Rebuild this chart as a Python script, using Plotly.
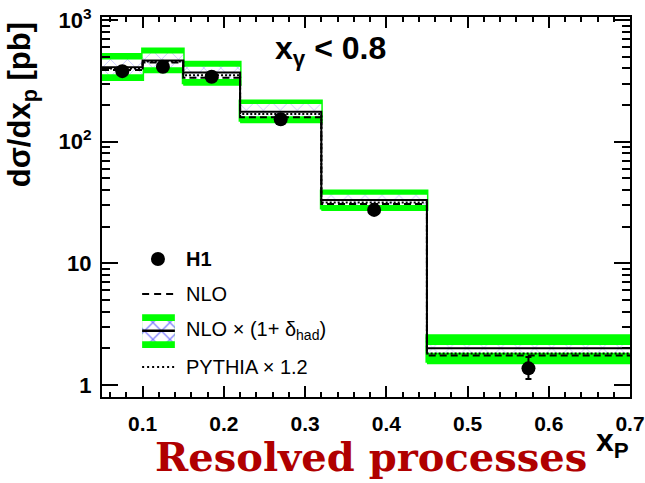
import plotly.graph_objects as go

# x_p binning and the bin centres of the measured points
xp_edges = [0.05, 0.10, 0.15, 0.22, 0.32, 0.45, 0.70]
xp_centres = [0.075, 0.125, 0.185, 0.27, 0.385, 0.575]

# H1 measurement [pb]
h1_xsec = [380, 413, 342, 153, 27.5, 1.37]
h1_err_up = [30, 32, 27, 12, 2.2, 0.33]
h1_err_dn = [30, 32, 27, 12, 2.2, 0.25]

# theory predictions [pb]
nlo = [388, 447, 336, 159, 30.7, 1.75]
nlo_had = [410, 466, 370, 176, 33.1, 2.00]
nlo_had_hi = [473, 532, 413, 204, 36.7, 2.13]   # hadronisation uncertainty
nlo_had_lo = [359, 410, 327, 162, 30.1, 1.84]
nlo_tot_hi = [520, 577, 449, 216, 39.3, 2.54]   # total uncertainty
nlo_tot_lo = [324, 375, 297, 146, 27.7, 1.52]
pythia_x12 = [399, 457, 352, 169, 31.6, 1.81]

# axis ticks
x_tickvals = [0.1, 0.2, 0.3, 0.4, 0.5, 0.6, 0.7]
x_ticktext = ["0.1", "0.2", "0.3", "0.4", "0.5", "0.6", "0.7"]
x_minor = [0.06, 0.08, 0.12, 0.14, 0.16, 0.18, 0.22, 0.24, 0.26, 0.28,
           0.32, 0.34, 0.36, 0.38, 0.42, 0.44, 0.46, 0.48, 0.52, 0.54,
           0.56, 0.58, 0.62, 0.64, 0.66, 0.68]
y_tickvals = [1, 10, 100, 1000]
y_ticktext = ["1", "10", "10<sup>2</sup>", "10<sup>3</sup>"]
y_minor = [m * 10 ** d for d in range(3) for m in range(2, 10)]

GREEN = "#00ff00"
HATCH = "#7070ff"
FONT = "Liberation Sans"

fig = go.Figure()


def box(x0, x1, lo, hi, **kw):
    return go.Scatter(x=[x0, x1, x1, x0, x0], y=[lo, lo, hi, hi, lo],
                      mode="lines", fill="toself", hoverinfo="skip",
                      showlegend=False, **kw)


# total uncertainty band (green boxes)
for i in range(len(nlo_had)):
    fig.add_trace(box(xp_edges[i], xp_edges[i + 1], nlo_tot_lo[i], nlo_tot_hi[i],
                      fillcolor=GREEN, line=dict(color=GREEN, width=3)))

# hadronisation uncertainty (hatched boxes)
for i in range(len(nlo_had)):
    fig.add_trace(box(xp_edges[i], xp_edges[i + 1], nlo_had_lo[i], nlo_had_hi[i],
                      fillcolor="white", line=dict(width=0),
                      fillpattern=dict(shape="x", fgcolor=HATCH, bgcolor="white",
                                       size=12, solidity=0.12)))


def steps(vals, dash, width=2):
    return go.Scatter(x=xp_edges, y=list(vals) + [vals[-1]], mode="lines",
                      line=dict(color="black", width=width, dash=dash, shape="hv"),
                      hoverinfo="skip", showlegend=False)


fig.add_trace(steps(nlo_had, "solid"))
fig.add_trace(steps(nlo, "7px,4px"))
fig.add_trace(steps(pythia_x12, "2px,2px"))

# data points
fig.add_trace(go.Scatter(
    x=xp_centres, y=h1_xsec, mode="markers",
    marker=dict(color="black", size=14),
    error_y=dict(type="data", symmetric=False, array=h1_err_up,
                 arrayminus=h1_err_dn, color="black", thickness=2, width=3),
    showlegend=False))

# legend keys, drawn on a unit overlay frame
key_x0, key_x1 = 0.076, 0.138
leg = dict(xaxis="x2", yaxis="y2", hoverinfo="skip", showlegend=False)
fig.add_trace(go.Scatter(x=[0.106], y=[0.363], mode="markers",
                         marker=dict(color="black", size=14), **leg))
fig.add_trace(go.Scatter(x=[key_x0, key_x1], y=[0.271, 0.271], mode="lines",
                         line=dict(color="black", width=2, dash="7px,5px"), **leg))
fig.add_trace(go.Scatter(x=[key_x0, key_x1, key_x1, key_x0, key_x0],
                         y=[0.129, 0.129, 0.218, 0.218, 0.129], mode="lines",
                         fill="toself", fillcolor=GREEN, line=dict(width=0), **leg))
fig.add_trace(go.Scatter(x=[key_x0, key_x1, key_x1, key_x0, key_x0],
                         y=[0.147, 0.147, 0.200, 0.200, 0.147], mode="lines",
                         fill="toself", fillcolor="white", line=dict(width=0),
                         fillpattern=dict(shape="x", fgcolor="blue", bgcolor="white",
                                          size=12, solidity=0.2), **leg))
fig.add_trace(go.Scatter(x=[key_x0, key_x1], y=[0.1745, 0.1745], mode="lines",
                         line=dict(color="black", width=2.5), **leg))
fig.add_trace(go.Scatter(x=[key_x0, key_x1], y=[0.079, 0.079], mode="lines",
                         line=dict(color="black", width=2, dash="2px,3px"), **leg))

legend_labels = ["<b>H1</b>", "NLO", "NLO \u00d7 (1+ \u03b4<sub>had</sub>)",
                 "PYTHIA \u00d7 1.2"]
legend_rows = [0.363, 0.271, 0.176, 0.079]

annotations = []
for lab, yy in zip(legend_labels, legend_rows):
    annotations.append(dict(text=lab, x=0.155, y=yy, xref="paper", yref="paper",
                            xanchor="left", yanchor="middle", showarrow=False,
                            font=dict(family=FONT, size=20, color="black")))

annotations += [
    dict(text="<b>x<sub>\u03b3</sub> &lt; 0.8</b>", x=0.324, y=0.913,
         xref="paper", yref="paper", xanchor="left", yanchor="middle",
         showarrow=False, font=dict(family=FONT, size=32, color="black")),
    dict(text="<b>d\u03c3/dx<sub>p</sub> [pb]</b>", x=-0.152, y=0.992,
         xref="paper", yref="paper", xanchor="center", yanchor="top",
         textangle=-90, showarrow=False,
         font=dict(family=FONT, size=31, color="black")),
    dict(text="<b>x<sub>P</sub></b>", x=0.966, y=-0.12,
         xref="paper", yref="paper", xanchor="center", yanchor="middle",
         showarrow=False, font=dict(family=FONT, size=32, color="black")),
    dict(text="<b>Resolved processes</b>", x=0.51, y=-0.156,
         xref="paper", yref="paper", xanchor="center", yanchor="middle",
         showarrow=False, font=dict(family="DejaVu Serif", size=40, color="#b00000")),
]

axis_common = dict(showgrid=False, zeroline=False, showline=True, linewidth=2,
                   linecolor="black", mirror="allticks", ticks="inside",
                   tickcolor="black", tickwidth=2, automargin=False)

fig.update_layout(
    width=645, height=483,
    margin=dict(l=102, r=15, t=17, b=86, autoexpand=False),
    paper_bgcolor="white", plot_bgcolor="white",
    showlegend=False,
    annotations=annotations,
    xaxis=dict(range=[0.05, 0.70], tickmode="array", tickvals=x_tickvals,
               ticktext=x_ticktext, ticklen=11, ticklabelstandoff=7,
               tickfont=dict(family=FONT, size=21, color="black", weight="bold"),
               minor=dict(tickmode="array", tickvals=x_minor, ticks="inside",
                          ticklen=5, tickwidth=1.5, tickcolor="black"),
               **axis_common),
    yaxis=dict(type="log", range=[-0.099, 3.025], tickmode="array",
               tickvals=y_tickvals, ticktext=y_ticktext, ticklen=16,
               ticklabelstandoff=4,
               tickfont=dict(family=FONT, size=22, color="black", weight="bold"),
               minor=dict(tickmode="array", tickvals=y_minor, ticks="inside",
                          ticklen=8, tickwidth=1.5, tickcolor="black"),
               **axis_common),
    xaxis2=dict(overlaying="x", range=[0, 1], visible=False),
    yaxis2=dict(overlaying="y", range=[0, 1], visible=False),
)

fig.write_html("out.html")
